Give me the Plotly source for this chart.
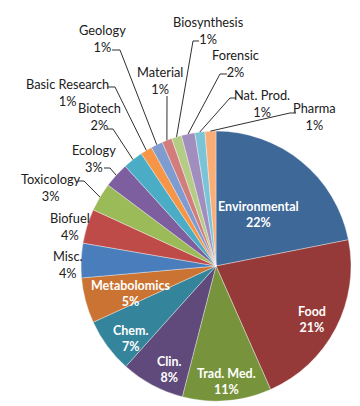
import math
import plotly.graph_objects as go

# ---- data ----
categories = ["Environmental", "Food", "Trad. Med.", "Clin.", "Chem.", "Metabolomics",
              "Misc.", "Biofuel", "Toxicology", "Ecology", "Biotech", "Basic Research",
              "Geology", "Material", "Biosynthesis", "Forensic", "Nat. Prod.", "Pharma"]
values = [21.8, 21.4, 10.6, 7.6, 6.5, 5.4, 4.1, 4.1, 3.4, 3.0, 2.4, 1.4,
          1.4, 1.2, 1.2, 1.6, 1.2, 1.3]
colors = ["#3D6898", "#953A38", "#77933C", "#5F4A7B", "#34849B", "#CB7332",
          "#4A7DBB", "#BE4B48", "#9BBB59", "#7D5FA0", "#4AACC5", "#F69545",
          "#7F9CD0", "#D27D7B", "#B5CC87", "#A28DBF", "#7BC4D8", "#F9AE78"]

# ---- layout constants (pixels) ----
W, H = 360, 406
CX, CY, R = 208, 258, 135
inside_labels = {  # label block centres
    "Environmental": (250, 206.5), "Food": (303.5, 311), "Trad. Med.": (218.5, 373),
    "Clin.": (161, 361), "Chem.": (122, 330), "Metabolomics": (122, 285),
}
outside_labels = {  # label block centre, leader start points (None = no leader)
    "Misc.": ((59.5, 256.5), None),
    "Biofuel": ((62, 219), None),
    "Toxicology": ((43, 179.5), [(70, 173), (76, 173)]),
    "Ecology": ((85.5, 150), [(96, 160), (102, 160)]),
    "Biotech": ((91, 109), [(99, 121), (105, 121)]),
    "Basic Research": ((59.5, 84.5), [(100, 79), (107, 79)]),
    "Geology": ((94.5, 31), [(104, 42), (112, 42)]),
    "Material": ((152, 72.5), [(159, 88)]),
    "Biosynthesis": ((200.5, 22.5), [(191, 33), (185, 33)]),
    "Forensic": ((227.5, 55), [(219, 66), (212, 66)]),
    "Nat. Prod.": ((254, 95), [(228, 90), (222, 90)]),
    "Pharma": ((306, 109), [(288, 105), (282, 105)]),
}
FONT = "Lato, 'Open Sans', sans-serif"

def px(x):
    return x / W

def py(y):
    return 1 - y / H

total = sum(values)
pcts = [f"{v / total:.0%}" for v in values]

fig = go.Figure(go.Pie(
    labels=categories, values=values, sort=False, direction="clockwise", rotation=0,
    marker=dict(colors=colors, line=dict(color="rgba(255,255,255,0.45)", width=0.8)),
    textinfo="none", hoverinfo="skip",
    domain=dict(x=[px(CX - R), px(CX + R)], y=[py(CY + R), py(CY - R)]),
))

annotations = []
shapes = []
cum = 0.0
for name, v, pct in zip(categories, values, pcts):
    mid = (cum + v / 2) / total * 2 * math.pi
    cum += v
    if name in inside_labels:
        x, y = inside_labels[name]
        annotations.append(dict(x=px(x), y=py(y), xref="paper", yref="paper", showarrow=False,
                                text=f"<b>{name}<br>{pct}</b>", align="center",
                                font=dict(family=FONT, size=12.5, color="white"),
                                xanchor="center", yanchor="middle"))
    else:
        (x, y), lead = outside_labels[name]
        annotations.append(dict(x=px(x), y=py(y), xref="paper", yref="paper", showarrow=False,
                                text=f"{name}<br>{pct}", align="center",
                                font=dict(family=FONT, size=12.8, color="#202020"),
                                xanchor="center", yanchor="middle"))
        if lead:
            ex = CX + R * math.sin(mid)
            ey = CY - R * math.cos(mid)
            pts = lead + [(ex, ey)]
            path = "M " + " L ".join(f"{px(a):.5f},{py(b):.5f}" for a, b in pts)
            shapes.append(dict(type="path", path=path, xref="paper", yref="paper",
                               line=dict(color="#303030", width=1)))

fig.update_layout(width=W, height=H, margin=dict(l=0, r=0, t=0, b=0),
                  paper_bgcolor="white", plot_bgcolor="white", showlegend=False,
                  annotations=annotations, shapes=shapes)
fig.write_html("out.html")
